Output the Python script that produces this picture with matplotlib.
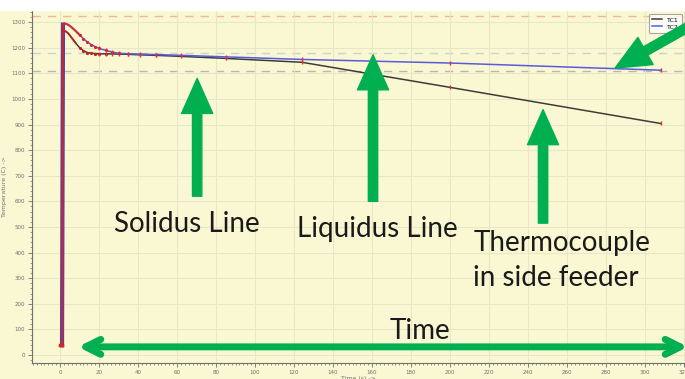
import numpy as np
import matplotlib.pyplot as plt
from matplotlib.ticker import MultipleLocator

# --- data ---
time_s = [0, 1, 1.5, 2, 3, 4, 5, 6, 8, 10, 12, 14, 16, 18, 20,
          23.6, 26.7, 30, 35, 41, 49, 62, 85, 124, 200, 308]
tc1 = [38, 38, 1262, 1266, 1263, 1257, 1248, 1238, 1218, 1200, 1188, 1181, 1178, 1177, 1176,
       1176, 1175.5, 1175, 1174, 1172, 1170, 1166, 1158, 1143, 1045, 904]
tc2 = [38, 38, 1290, 1294, 1293, 1290, 1285, 1279, 1265, 1250, 1235, 1222, 1212, 1204, 1197,
       1189, 1183, 1178, 1176, 1175, 1173, 1170, 1164, 1154, 1140, 1112]
ref_levels = [1325, 1178, 1110]   # dashed horizontal reference lines
ref_colors = ['#f0b890', '#c8d4d0', '#b8b8b0']

bg = '#f9f8d3'
green = '#00b050'

fig = plt.figure(figsize=(6.85, 3.79), dpi=100, facecolor=bg)
fig.patches.append(plt.Rectangle((0, 0.974), 1, 0.03, transform=fig.transFigure,
                                 color='white', zorder=0))
ax = fig.add_axes([32 / 685, 1 - 363 / 379, 1 - 32 / 685, 353 / 379])
ax.set_facecolor(bg)

# reference lines
for lv, c in zip(ref_levels, ref_colors):
    ax.axhline(lv, color=c, ls=(0, (6, 5)), lw=1.0, zorder=1)

# curves
ax.plot(time_s, tc1, color='#3c3c3c', lw=1.1, label='TC1', zorder=3)
ax.plot(time_s, tc2, color='#5a5ae0', lw=1.1, label='TC2', zorder=3)
ax.plot([time_s[1], time_s[2]], [tc2[1], tc2[2]], color='#4848a8', lw=3, zorder=4)
ax.plot(time_s[1:10], tc2[1:10], color='#e02020', lw=1.6, alpha=0.8, zorder=5)
ax.plot(time_s[2:9], tc1[2:9], color='#c82020', lw=1.4, alpha=0.8, zorder=5)
ax.plot(time_s[9:18], tc2[9:18], ls='none', marker='.', ms=2.5, color='#e02020', zorder=5)
ax.plot(time_s[9:16], tc1[9:16], ls='none', marker='.', ms=2.5, color='#c02020', zorder=5)
ax.plot(time_s[14:], tc2[14:], ls='none', marker='|', ms=3, mew=1, color='#e03030', zorder=5)
ax.plot(time_s[14:], tc1[14:], ls='none', marker='|', ms=3, mew=1, color='#e03030', zorder=5)
ax.plot(time_s[:2], [tc1[0], tc1[1]], color='#e02020', lw=2.5, zorder=5)

ax.set_xlim(-14.4, 320.5)
ax.set_ylim(-31, 1347)
ax.xaxis.set_major_locator(MultipleLocator(20))
ax.xaxis.set_minor_locator(MultipleLocator(2))
ax.yaxis.set_major_locator(MultipleLocator(100))
ax.yaxis.set_minor_locator(MultipleLocator(20))
ax.tick_params(labelsize=4, colors='#707070', length=3, width=0.6, pad=2)
ax.tick_params(which='minor', length=1.5, width=0.5, colors='#707070')
ax.grid(True, color='#e8e6c4', lw=0.8)
for s in ['top', 'right']:
    ax.spines[s].set_visible(False)
for s in ['left', 'bottom']:
    ax.spines[s].set_color('#707070')
ax.set_ylabel('Temperature (C) ->', fontsize=4.5, color='#707070', labelpad=3)
ax.set_xlabel('Time (s) ->', fontsize=4.5, color='#707070', labelpad=1)

leg = ax.legend(loc='upper left', bbox_to_anchor=(0.94, 0.997), fontsize=4.5,
                handlelength=1.6, frameon=True, borderpad=0.5, labelspacing=0.25,
                fancybox=True)
leg.get_frame().set_edgecolor('#909090')
leg.get_frame().set_linewidth(0.8)
leg.get_frame().set_facecolor('white')

# --- green annotations ---
head = dict(arrowstyle='simple,head_width=1.6,head_length=1.8,tail_width=0.48',
            color=green, mutation_scale=14, shrinkA=0, shrinkB=0)
ax.annotate('', xy=(70.3, 1080), xytext=(70.3, 620), arrowprops=head, zorder=6)
ax.annotate('', xy=(160.5, 1172), xytext=(160.5, 600), arrowprops=head, zorder=6)
ax.annotate('', xy=(247.7, 958), xytext=(247.7, 515), arrowprops=head, zorder=6)
ax.annotate('', xy=(284.6, 1120), xytext=(322, 1280), arrowprops=head, zorder=6,
            annotation_clip=False)
ax.annotate('', xy=(9.2, 32), xytext=(322, 32), annotation_clip=False, zorder=6,
            arrowprops=dict(arrowstyle='<->,head_width=0.45,head_length=0.9', lw=5,
                            color=green, shrinkA=0, shrinkB=0, mutation_scale=12))

tfont = dict(fontsize=20, family='Lato', color='#1a1a1a', zorder=7)
ax.text(65, 513, 'Solidus Line', ha='center', va='center', **tfont)
ax.text(162.5, 493, 'Liquidus Line', ha='center', va='center', **tfont)
ax.text(212, 370, 'Thermocouple\nin side feeder', ha='left', va='center',
        linespacing=1.42, **tfont)
ax.text(184.5, 95, 'Time', ha='center', va='center', **tfont)

fig.savefig('out.png', dpi=100, facecolor=bg)
